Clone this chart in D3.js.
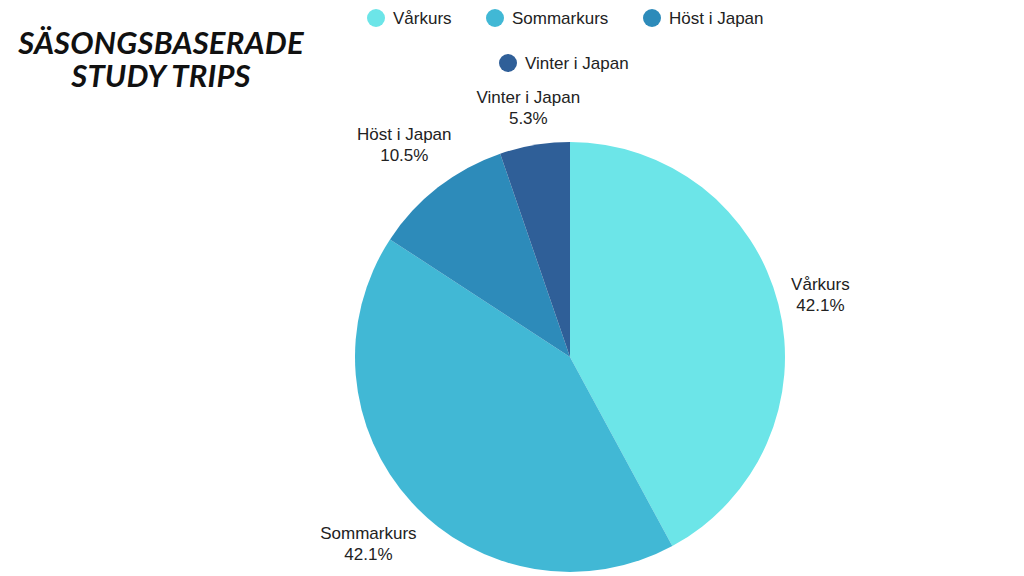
<!DOCTYPE html>
<html><head><meta charset="utf-8">
<script src="https://cdn.jsdelivr.net/npm/d3@7"></script>
<style>html,body{margin:0;padding:0;background:#fff;}svg{display:block;}</style>
</head><body>
<svg id="c" width="1024" height="576"></svg>
<script>
const categories = ["Vårkurs", "Sommarkurs", "Höst i Japan", "Vinter i Japan"];
const values = [8, 8, 2, 1];
const colors = ["#6ce5e8", "#41b8d5", "#2d8bba", "#2f5f98"];
const titleLines = ["SÄSONGSBASERADE", "STUDY TRIPS"];

const svg = d3.select("#c");
const W = 1024, H = 576;
svg.append("rect").attr("width", W).attr("height", H).attr("fill", "#fff");

// Title
titleLines.forEach((t, i) => {
  svg.append("text")
    .attr("font-family", "Lato, 'Open Sans', sans-serif")
    .attr("font-weight", 700).attr("font-style", "italic")
    .attr("font-size", 31).attr("letter-spacing", 0.2)
    .attr("fill", "#111").attr("text-anchor", "middle")
    .attr("x", 161).attr("y", 54 + i * 33).text(t);
});

// Pie
const cx = 570, cy = 357, r = 215;
const total = d3.sum(values);
const pie = d3.pie().sort(null).value(d => d)(values);
const arc = d3.arc().innerRadius(0).outerRadius(r);
const g = svg.append("g").attr("transform", `translate(${cx},${cy})`);
g.selectAll("path").data(pie).join("path")
  .attr("d", arc).attr("fill", (d, i) => colors[i]);

const fmt = d3.format(".1%");
const lab = g.selectAll("text.lab").data(pie).join("text")
  .attr("class", "lab")
  .attr("font-family", "'Liberation Sans', Arial, sans-serif")
  .attr("font-size", 17).attr("fill", "#222").attr("text-anchor", "middle");
lab.append("tspan").attr("x", 0).attr("y", -4).text((d, i) => categories[i]);
lab.append("tspan").attr("x", 0).attr("y", 17).text(d => fmt(d.value / total));
lab.each(function(d) {
  const bb = this.getBBox();
  const a = (d.startAngle + d.endAngle) / 2;
  const s = Math.sin(a), c = -Math.cos(a);
  const dist = r + 10 + (bb.width / 2) * Math.abs(s) + (bb.height / 2) * Math.abs(c);
  d3.select(this).attr("transform", `translate(${dist * s},${dist * c})`);
});

// Legend
const legendPos = [[376, 18], [495, 18], [652, 18], [508, 63]];
const lg = svg.append("g");
categories.forEach((c, i) => {
  const [x, y] = legendPos[i];
  lg.append("circle").attr("cx", x).attr("cy", y).attr("r", 9).attr("fill", colors[i]);
  lg.append("text").attr("x", x + 17).attr("y", y + 6)
    .attr("font-family", "'Liberation Sans', Arial, sans-serif")
    .attr("font-size", 17).attr("fill", "#222").text(c);
});
</script>
</body></html>
